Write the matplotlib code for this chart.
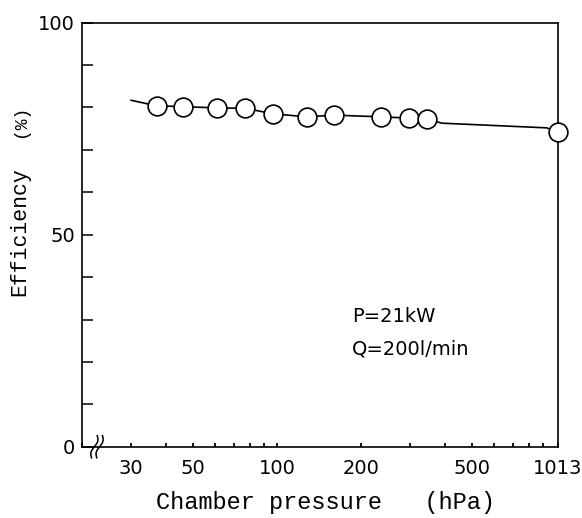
import numpy as np
import matplotlib
matplotlib.use('Agg')
import matplotlib.pyplot as plt
from matplotlib.ticker import FixedLocator, NullFormatter, LogLocator

# 测量点 (chamber pressure, efficiency)
pressure = [37, 46, 61, 77, 97, 128, 160, 235, 297, 346, 1013]
efficiency = [80.4, 80.2, 79.9, 79.8, 78.5, 77.8, 78.2, 77.8, 77.5, 77.2, 74.2]

# 曲线 (穿过测量点)
curve_p = [30, 37, 46, 61, 77, 97, 128, 160, 235, 297, 346, 390, 926, 1013]
curve_eff = [81.7, 80.4, 80.2, 79.9, 79.8, 78.5, 77.8, 78.2, 77.8, 77.5, 77.2, 76.3, 75.2, 74.2]

x_ticks = [30, 50, 100, 200, 500, 1013]
x_tick_labels = ['30', '50', '100', '200', '500', '1013']
y_ticks = [0, 50, 100]

fig = plt.figure(figsize=(5.82, 5.18), dpi=100)
ax = fig.add_axes([0.1409, 0.1376, 0.8173, 0.8186])

ax.plot(curve_p, curve_eff, color='black', lw=1.2, zorder=2)
ax.plot(pressure, efficiency, 'o', ms=13.5, mfc='white', mec='black', mew=1.2,
        zorder=3, clip_on=False)

ax.set_xscale('log')
ax.set_xlim(20, 1013)
ax.set_ylim(0, 100)

# x 轴刻度
ax.xaxis.set_major_locator(FixedLocator(x_ticks))
ax.set_xticklabels(x_tick_labels)
ax.xaxis.set_minor_locator(LogLocator(base=10, subs=np.arange(2, 10)))
ax.xaxis.set_minor_formatter(NullFormatter())
ax.tick_params(axis='x', which='both', direction='in', length=3, width=1.3,
               pad=9, labelsize=14)

# y 轴刻度
ax.yaxis.set_major_locator(FixedLocator(y_ticks))
ax.yaxis.set_minor_locator(FixedLocator(np.arange(0, 101, 10)))
ax.tick_params(axis='y', which='both', direction='in', length=8, width=1.1,
               pad=5, labelsize=14, right=False)

for s in ax.spines.values():
    s.set_linewidth(1.2)

# 轴断开符号 (两个斜 S)
t = np.linspace(0, 1, 40)
ax.axvspan(0.021, 0.044, ymin=-0.004, ymax=0.004, color='white',
           transform=ax.transAxes, clip_on=False, zorder=4)
for dx in (0.026, 0.037):
    xs = dx + 0.012 * (t - 0.5) - 0.004 * np.sin(2 * np.pi * t)
    ys = -0.026 + 0.052 * t
    ax.plot(xs, ys, color='black', lw=1.1, transform=ax.transAxes,
            clip_on=False, zorder=5)

# 标签
mono = 'Liberation Mono'
fig.text(326 / 582, 1 - 503 / 518, 'Chamber pressure   (hPa)', family=mono,
         fontsize=17, ha='center', va='center')
fig.text(20 / 582, 1 - 232 / 518, 'Efficiency', family=mono, fontsize=15.5,
         rotation=90, ha='center', va='center')
fig.text(20 / 582, 1 - 121 / 518, '(%)', family=mono, fontsize=13,
         rotation=90, ha='center', va='center')

ax.text(0.5676, 0.308, 'P=21kW', transform=ax.transAxes, fontsize=14,
        ha='left', va='center')
ax.text(0.5676, 0.230, 'Q=200l/min', transform=ax.transAxes, fontsize=14,
        ha='left', va='center')

fig.savefig('out.png', dpi=100)
